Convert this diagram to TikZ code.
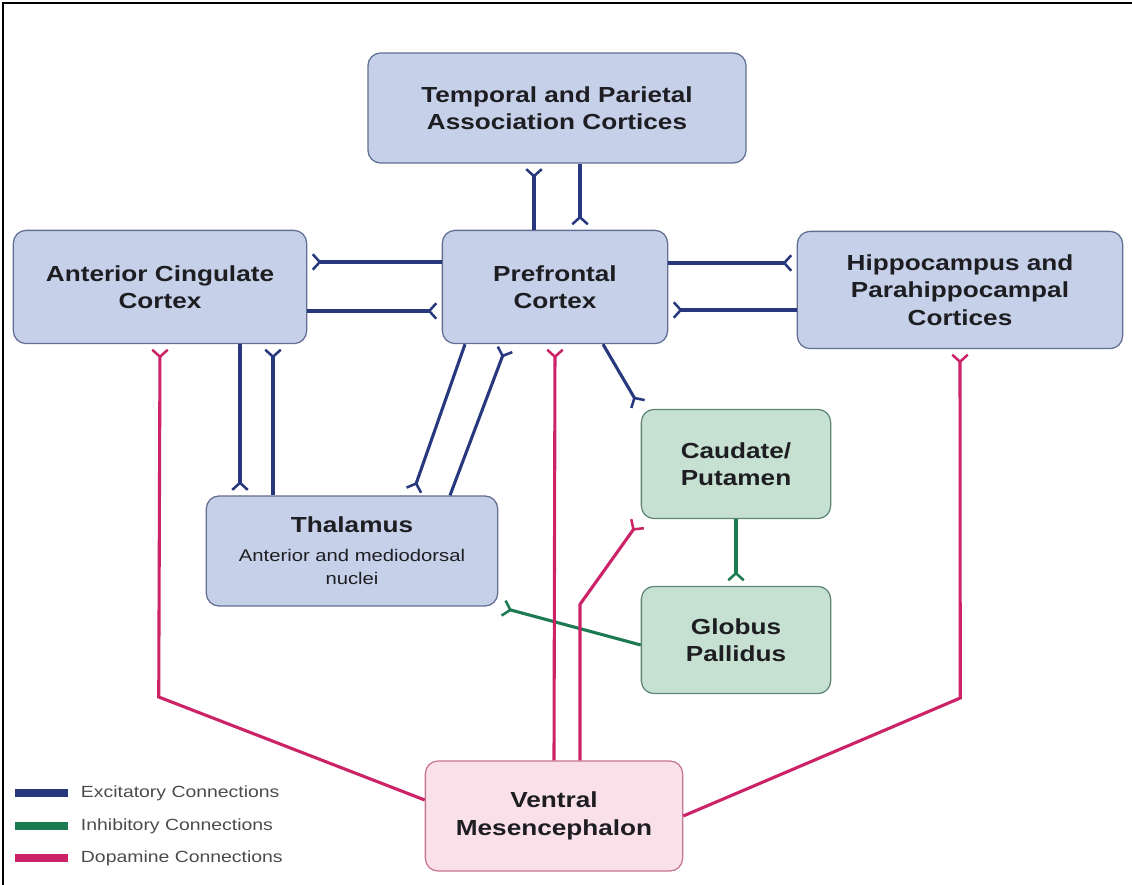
\documentclass[tikz,border=0pt]{standalone}
\usepackage{fontspec}
\setmainfont{Liberation Sans}[FakeStretch=1.2]
\usetikzlibrary{arrows.meta,calc}

\definecolor{boxblue}{RGB}{198,209,233}
\definecolor{edgeblue}{RGB}{98,110,146}
\definecolor{boxgreen}{RGB}{198,225,210}
\definecolor{edgegreen}{RGB}{96,134,116}
\definecolor{boxpink}{RGB}{250,225,233}
\definecolor{edgepink}{RGB}{198,118,148}
\definecolor{excit}{RGB}{40,56,126}
\definecolor{inhib}{RGB}{28,122,82}
\definecolor{dopa}{RGB}{204,34,104}
\definecolor{ink}{RGB}{30,30,34}

\newcommand{\subline}[1]{{\fontsize{12}{13}\selectfont\mdseries #1}}

\tikzset{
  region/.style={draw=edgeblue, line width=0.9pt, fill=boxblue,
    rounded corners=9pt, align=center, inner sep=0pt, text=ink,
    font=\fontsize{15.5}{19.5}\selectfont\bfseries},
  basal/.style={region, draw=edgegreen, fill=boxgreen},
  midbrain/.style={region, draw=edgepink, fill=boxpink},
  conn/.style={line width=2.2pt,
    -{Straight Barb[reversed,length=5pt,width=11pt,line width=1.8pt]},
    shorten >=3pt},
  exc/.style={conn, draw=excit},
  inh/.style={conn, draw=inhib},
  dop/.style={conn, draw=dopa},
  heavy/.style={line width=3pt},
  keybar/.style={line width=5pt},
  keytext/.style={anchor=west, text=ink!80,
    font=\fontsize{11.5}{13}\selectfont}
}

\begin{document}
\begin{tikzpicture}[x=0.025cm, y=-0.025cm]
  \useasboundingbox (0,0) rectangle (1132,885);
  \draw[line width=1.2pt] (1132,3) -- (3,3) -- (3,885);

  % regions
  \node[region, minimum width=9.45cm, minimum height=2.75cm] (tpc)
    at (557,108) {Temporal and Parietal\\Association Cortices};
  \node[region, minimum width=7.33cm, minimum height=2.83cm] (acc)
    at (160,287) {Anterior Cingulate\\Cortex};
  \node[region, minimum width=5.63cm, minimum height=2.83cm] (pfc)
    at (555,287) {Prefrontal\\Cortex};
  \node[region, minimum width=8.13cm, minimum height=2.93cm] (hip)
    at (960,290) {Hippocampus and\\Parahippocampal\\Cortices};
  \node[region, minimum width=7.28cm, minimum height=2.75cm] (thl)
    at (352,551) {Thalamus\\[1pt]\subline{Anterior and mediodorsal}\\[-3pt]\subline{nuclei}};
  \node[basal, minimum width=4.73cm, minimum height=2.73cm] (cdp)
    at (736,464) {Caudate/\\Putamen};
  \node[basal, minimum width=4.73cm, minimum height=2.68cm] (gpl)
    at (736,640) {Globus\\Pallidus};
  \node[midbrain, minimum width=6.43cm, minimum height=2.75cm] (vmc)
    at (554,816) {Ventral\\Mesencephalon};

  % excitatory
  \draw[exc] ($(pfc.north)+(-21,0)$) -- ($(tpc.south)+(-23,0)$);
  \draw[exc] ($(tpc.south)+(23,0)$) -- ($(pfc.north)+(25,0)$);
  \draw[exc] ($(pfc.west)+(0,-25)$) -- ($(acc.east)+(0,-25)$);
  \draw[exc, heavy] ($(acc.east)+(0,24)$) -- ($(pfc.west)+(0,24)$);
  \draw[exc] ($(pfc.east)+(0,-24)$) -- ($(hip.west)+(0,-27)$);
  \draw[exc, heavy] ($(hip.west)+(0,20)$) -- ($(pfc.east)+(0,23)$);
  \draw[exc] ($(acc.south)+(80,0)$) -- ($(thl.north)+(-112,0)$);
  \draw[exc] ($(thl.north)+(-79,0)$) -- ($(acc.south)+(113,0)$);
  \draw[exc] ($(pfc.south)+(-90,0)$) -- ($(thl.north)+(60,0)$);
  \draw[exc] ($(thl.north)+(98,0)$) -- ($(pfc.south)+(-48,0)$);
  \draw[exc] ($(pfc.south)+(48,0)$) -- (cdp.north west);

  % inhibitory
  \draw[inh] (cdp.south) -- (gpl.north);
  \draw[inh] ($(gpl.west)+(0,5)$) -- (thl.south east);

  % dopamine
  \draw[dop] ($(vmc.west)+(0,-16)$) -- ++(-266,-103) -- (acc.south);
  \draw[dop] (vmc.east) -- ++(277,-118) -- (hip.south);
  \draw[dop] (vmc.north) -- (pfc.south);
  \draw[dop] ($(vmc.north)+(26,0)$) -- ++(0,-156) -- (cdp.south west);

  % legend
  \draw[keybar, excit] (15,793) -- (68,793);
  \draw[keybar, inhib] (15,826) -- (68,826);
  \draw[keybar, dopa] (15,858) -- (68,858);
  \node[keytext] (kexc) at (76,793) {Excitatory Connections};
  \node[keytext] (kinh) at (76,826) {Inhibitory Connections};
  \node[keytext] (kdop) at (76,858) {Dopamine Connections};
\end{tikzpicture}
\end{document}
